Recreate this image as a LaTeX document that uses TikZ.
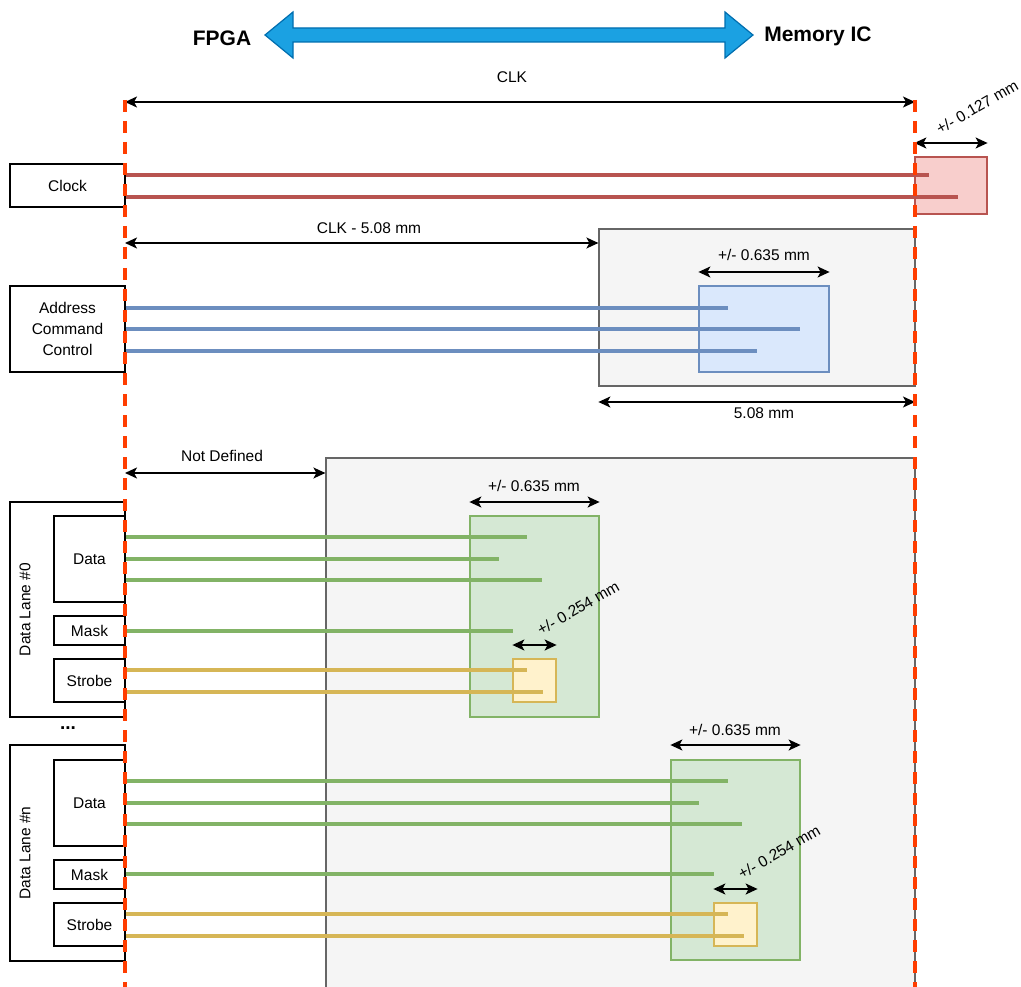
\documentclass[tikz,border=0pt]{standalone}
\usepackage{fontspec}
\setmainfont{Liberation Sans}
\usepackage{xcolor}
\usetikzlibrary{arrows.meta,calc}

\definecolor{clkline}{HTML}{B85450}
\definecolor{clkfill}{HTML}{F8CECC}
\definecolor{acline}{HTML}{6C8EBF}
\definecolor{acfill}{HTML}{DAE8FC}
\definecolor{dqline}{HTML}{82B366}
\definecolor{dqfill}{HTML}{D5E8D4}
\definecolor{dqsline}{HTML}{D6B656}
\definecolor{dqsfill}{HTML}{FFF2CC}
\definecolor{grayline}{HTML}{666666}
\definecolor{grayfill}{HTML}{F5F5F5}
\definecolor{planered}{HTML}{FF3D00}
\definecolor{arrowfill}{HTML}{1BA1E2}
\definecolor{arrowline}{HTML}{006EAF}

\begin{document}
\begin{tikzpicture}[x=1pt, y=-1pt,
    txt/.style={font=\fontsize{15.5}{21}\selectfont},
    head/.style={font=\fontsize{21}{24}\selectfont\bfseries},
    tag/.style={draw, line width=1.2pt, inner sep=0pt, txt, align=center},
    pad/.style={draw=#1, line width=1.2pt, inner sep=0pt},
    sig/.style={draw=#1, line width=4pt},
    dim/.style={{Stealth[length=12pt,width=11pt,inset=3pt]}-{Stealth[length=12pt,width=11pt,inset=3pt]}, line width=1.4pt},
    plane/.style={draw=planered, line width=3.5pt, dash pattern=on 12pt off 9pt}]

    \clip (0,0) rectangle (1021,987);

    % direction
    \node[head] (fpga) at (222,38) {FPGA};
    \node[head] (mem) at (818,36) {Memory IC};
    \draw[draw=arrowline, fill=arrowfill, line width=1.2pt]
    (265,35) -- (293,12) -- (293,28) -- (725,28) -- (725,12) -- (753,35)
    -- (725,58) -- (725,42) -- (293,42) -- (293,58) -- cycle;

    % reference planes
    \coordinate (fpgaplane) at (125,100);
    \coordinate (memplane) at (915,100);

    % windows
    \node[pad=grayline, fill=grayfill, minimum width=316pt, minimum height=157pt] (acwin) at (757,307.5) {};
    \node[pad=grayline, fill=grayfill, minimum width=589pt, minimum height=537pt] (dqwin) at (620.5,726.5) {};
    \node[pad=clkline, fill=clkfill, minimum width=72pt, minimum height=57pt] (clkpad) at (951,185.5) {};
    \node[pad=acline, fill=acfill, minimum width=130pt, minimum height=86pt] (acpad) at (764,329) {};
    \node[pad=dqline, fill=dqfill, minimum width=129pt, minimum height=201pt] (dqpad0) at (534.5,616.5) {};
    \node[pad=dqsline, fill=dqsfill, minimum width=43pt, minimum height=43pt] (dqspad0) at (534.5,680.5) {};
    \node[pad=dqline, fill=dqfill, minimum width=129pt, minimum height=200pt] (dqpadn) at (735.5,860) {};
    \node[pad=dqsline, fill=dqsfill, minimum width=43pt, minimum height=43pt] (dqspadn) at (735.5,924.5) {};

    % groups
    \node[tag, minimum width=115pt, minimum height=43pt] (clock) at (67.5,185.5) {Clock};
    \node[tag, minimum width=115pt, minimum height=86pt] (addr) at (67.5,329) {Address\\Command\\Control};
    \node[tag, minimum width=115pt, minimum height=215pt] (lane0) at (67.5,609.5) {};
    \node[tag, minimum width=115pt, minimum height=216pt] (lanen) at (67.5,853) {};
    \node[txt, rotate=90] (lane0lbl) at (25,609.5) {Data Lane \#0};
    \node[txt, rotate=90] (lanenlbl) at (25,853) {Data Lane \#n};
    \node[font=\fontsize{19}{21}\selectfont\bfseries] (dots) at (68,728) {...};
    \foreach \l/\y in {0/0, n/244} {
        \node[tag, minimum width=71pt, minimum height=86pt] (data\l) at (89.5,559+\y) {Data};
        \node[tag, minimum width=71pt, minimum height=29pt] (mask\l) at (89.5,630.5+\y) {Mask};
        \node[tag, minimum width=71pt, minimum height=43pt] (strobe\l) at (89.5,680.5+\y) {Strobe};
    }

    % traces
    \foreach \y/\e in {175/929, 197/958}
        \draw[sig=clkline] (clock.east |- 0,\y) -- (\e,\y);
    \foreach \y/\e in {308/728, 329/800, 351/757}
        \draw[sig=acline] (addr.east |- 0,\y) -- (\e,\y);
    \foreach \y/\e in {537/527, 559/499, 580/542, 781/728, 803/699, 824/742}
        \draw[sig=dqline] (lane0.east |- 0,\y) -- (\e,\y);
    \foreach \y/\e in {631/513, 874/714}
        \draw[sig=dqline] (lane0.east |- 0,\y) -- (\e,\y);
    \foreach \y/\e in {670/527, 692/543, 914/728, 936/744}
        \draw[sig=dqsline] (lane0.east |- 0,\y) -- (\e,\y);

    % dimensions
    \draw[dim] (fpgaplane |- 0,102) -- (memplane |- 0,102);
    \node[txt] (clklbl) at (512,77) {CLK};
    \draw[dim] (fpgaplane |- 0,243) -- (acwin.west |- 0,243);
    \node[txt] (aclbl) at (369,228) {CLK - 5.08 mm};
    \draw[dim] (acwin.west |- 0,402) -- (memplane |- 0,402);
    \node[txt] (winlbl) at (764,413) {5.08 mm};
    \draw[dim] (fpgaplane |- 0,473) -- (dqwin.west |- 0,473);
    \node[txt] (dqlbl) at (222,456) {Not Defined};

    \draw[dim] (clkpad.west |- 0,143) -- (clkpad.east |- 0,143);
    \node[txt, rotate=30] (clktol) at (977,107) {+/- 0.127 mm};
    \draw[dim] (acpad.west |- 0,272) -- (acpad.east |- 0,272);
    \node[txt] (actol) at (764,255) {+/- 0.635 mm};
    \draw[dim] (dqpad0.west |- 0,502) -- (dqpad0.east |- 0,502);
    \node[txt] (dqtol0) at (534,486) {+/- 0.635 mm};
    \draw[dim] (dqspad0.west |- 0,645) -- (dqspad0.east |- 0,645);
    \node[txt, rotate=30] (dqstol0) at (578,608) {+/- 0.254 mm};
    \draw[dim] (dqpadn.west |- 0,745) -- (dqpadn.east |- 0,745);
    \node[txt] (dqtoln) at (735,730) {+/- 0.635 mm};
    \draw[dim] (dqspadn.west |- 0,889) -- (dqspadn.east |- 0,889);
    \node[txt, rotate=30] (dqstoln) at (779,852) {+/- 0.254 mm};

    \draw[plane] (fpgaplane) -- (fpgaplane |- 0,990);
    \draw[plane] (memplane) -- (memplane |- 0,990);
\end{tikzpicture}
\end{document}
